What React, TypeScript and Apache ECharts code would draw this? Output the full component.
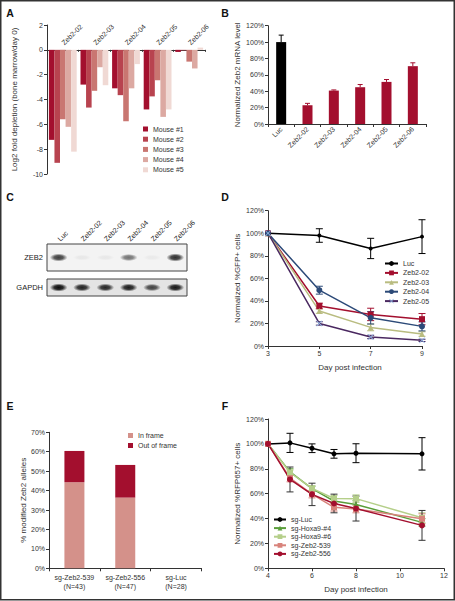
import React, { useEffect, useRef } from "react";
import * as echarts from "echarts";

const FONT = "'Liberation Sans', Arial, Helvetica, sans-serif";
const INK = "#333333";
const CRIMSON = "#a30f2e";

// ---------- Panel A : log2 fold depletion ----------
const aGuides = ["Zeb2-02", "Zeb2-03", "Zeb2-04", "Zeb2-05", "Zeb2-06"];
const aMice = ["Mouse #1", "Mouse #2", "Mouse #3", "Mouse #4", "Mouse #5"];
const aMouse1 = [-7.25, -2.8, -3.1, -4.8, -0.17];
const aMouse2 = [-9.1, -4.65, -3.65, -3.75, -0.05];
const aMouse3 = [-5.6, -3.3, -5.75, -2.45, -0.95];
const aMouse4 = [-6.2, -1.4, -3.1, -5.4, -1.5];
const aMouse5 = [-8.2, -2.85, -1.15, -4.8, 0.18];
const aColors = ["#a30f2e", "#b8434f", "#c97671", "#dca9a2", "#f0d9d4"];
const aMin = -10;
const aMax = 2;

// ---------- Panel B : Zeb2 mRNA ----------
const bCats = ["Luc", "Zeb2-02", "Zeb2-03", "Zeb2-04", "Zeb2-05", "Zeb2-06"];
const bMean = [100, 22.9, 40.8, 44.9, 51.4, 70.6];
const bErr = [8.5, 2.3, 0.8, 3.3, 2.9, 4.1];

// ---------- Panel C : western blot ----------
const cLanes = ["Luc", "Zeb2-02", "Zeb2-03", "Zeb2-04", "Zeb2-05", "Zeb2-06"];
const cZeb2 = [0.78, 0.05, 0.05, 0.55, 0.04, 0.85];
const cGapdh = [1.0, 0.9, 0.88, 0.93, 0.75, 0.95];

// ---------- Panel D : %GFP+ ----------
const dDays = [3, 5, 7, 9];
const dNames = ["Luc", "Zeb2-02", "Zeb2-03", "Zeb2-04", "Zeb2-05"];
const dLuc = [100, 98, 86.5, 97];
const dLucErr = [0, 6, 9, 15];
const dZ02 = [100, 35.5, 28, 23.8];
const dZ02Err = [0, 2.5, 5.5, 5];
const dZ03 = [100, 31, 16.5, 10.6];
const dZ03Err = [0, 2, 3, 2];
const dZ04 = [100, 49.5, 25, 17.4];
const dZ04Err = [0, 3.5, 5.5, 4];
const dZ05 = [100, 20, 8, 5];
const dZ05Err = [0, 1.5, 1.5, 1];

// ---------- Panel E : modified alleles ----------
const eCats = ["sg-Zeb2-539\n(N=43)", "sg-Zeb2-556\n(N=47)", "sg-Luc\n(N=28)"];
const eNames = ["In frame", "Out of frame"];
const eInFrame = [44.3, 36.4, 0];
const eOutFrame = [16.1, 16.8, 0];

// ---------- Panel F : %RFP657+ ----------
const fDays = [4, 5, 6, 7, 8, 11];
const fNames = ["sg-Luc", "sg-Hoxa9-#4", "sg-Hoxa9-#6", "sg-Zeb2-539", "sg-Zeb2-556"];
const fLuc = [100, 100.8, 96.5, 92, 92.5, 92];
const fLucErr = [0, 7.7, 3.5, 3.5, 7.6, 13];
const fHoxa4 = [100, 77.5, 64, 54, 51.3, 36.9];
const fHoxa4Err = [0, 2.5, 2, 2, 3, 3];
const fHoxa6 = [100, 77, 64.2, 56.1, 56, 40.6];
const fHoxa6Err = [0, 2, 2, 2.5, 3, 4];
const fZeb539 = [100, 72.5, 59.6, 49, 47.6, 39.8];
const fZeb539Err = [0, 3, 3, 3, 3, 4];
const fZeb556 = [100, 71.4, 59.4, 52.1, 48, 34.5];
const fZeb556Err = [0, 10, 9, 7.5, 10, 12];

const labelStyle = { fontSize: 7, color: INK, fontFamily: FONT };
const nameStyle = { fontSize: 8, color: INK, fontFamily: FONT };

function axis(extra: any) {
  const base: any = {
    axisLine: { show: true, onZero: false, lineStyle: { color: INK, width: 1 } },
    axisTick: { show: true, length: 3, lineStyle: { color: INK, width: 1 } },
    axisLabel: { ...labelStyle, margin: 4 },
    splitLine: { show: false },
    nameTextStyle: nameStyle,
  };
  const out: any = { ...base, ...extra };
  for (const k of ["axisLine", "axisTick", "axisLabel", "nameTextStyle"]) {
    if (extra[k]) out[k] = { ...base[k], ...extra[k] };
  }
  return out;
}

function errorBars(color: string | ((i: number) => string), cap: number, upperOnly = false) {
  return (params: any, api: any) => {
    const x = api.value(0);
    const lo = api.value(1);
    const hi = api.value(2);
    const top = api.coord([x, hi]);
    const bot = api.coord([x, lo]);
    const stroke = typeof color === "function" ? color(params.dataIndex) : color;
    const st = { stroke, lineWidth: 1 };
    const ch: any[] = [
      { type: "line", shape: { x1: top[0], y1: top[1], x2: bot[0], y2: bot[1] }, style: st },
      { type: "line", shape: { x1: top[0] - cap, y1: top[1], x2: top[0] + cap, y2: top[1] }, style: st },
    ];
    if (!upperOnly) {
      ch.push({ type: "line", shape: { x1: bot[0] - cap, y1: bot[1], x2: bot[0] + cap, y2: bot[1] }, style: st });
    }
    return { type: "group", children: ch };
  };
}

function errData(xs: number[], vals: number[], errs: number[]) {
  return xs
    .map((x, i) => [x, vals[i] - errs[i], vals[i] + errs[i]])
    .filter((_, i) => errs[i] > 0);
}

function blotRender(bandH: number) {
  return (params: any, api: any) => {
    const lane = api.value(0);
    const lvl = api.value(2);
    const c = api.coord([lane, 0]);
    const s = api.size([1, 1]);
    const rx = s[0] * 0.38;
    const ry = bandH * (0.75 + 0.45 * lvl);
    return {
      type: "ellipse",
      shape: { cx: c[0], cy: c[1], rx, ry },
      style: {
        fill: new echarts.graphic.RadialGradient(0.5, 0.5, 0.5, [
          { offset: 0, color: `rgba(12,12,12,${lvl})` },
          { offset: 0.5, color: `rgba(12,12,12,${lvl * 0.85})` },
          { offset: 1, color: "rgba(12,12,12,0)" },
        ]),
      },
    };
  };
}

function lineSeries(name: string, xs: number[], vals: number[], idx: number, color: string, symbol: string, size: number, symColor?: string) {
  return {
    name,
    type: "line",
    xAxisIndex: idx,
    yAxisIndex: idx,
    data: xs.map((x, i) => [x, vals[i]]),
    symbol,
    symbolSize: size,
    lineStyle: { color, width: 1.5 },
    itemStyle: { color: symColor || color },
    z: 3,
  };
}

function errSeries(xs: number[], vals: number[], errs: number[], idx: number, color: string) {
  return {
    type: "custom",
    xAxisIndex: idx,
    yAxisIndex: idx,
    data: errData(xs, vals, errs),
    encode: { x: 0, y: [1, 2] },
    renderItem: errorBars(color, 3.5),
    z: 2,
  };
}

const XMARK = "path://M0,1L1,0L5,4L9,0L10,1L6,5L10,9L9,10L5,6L1,10L0,9L4,5Z";

function panelLabel(text: string, x: number, y: number) {
  return {
    type: "text",
    x,
    y,
    style: { text, fontSize: 10.5, fontWeight: "bold", fontFamily: FONT, fill: "#111", align: "center", verticalAlign: "middle" },
  };
}

export default function App() {
  const ref = useRef<HTMLDivElement>(null);
  useEffect(() => {
    if (!ref.current) return;
    const chart = echarts.init(ref.current, null, { renderer: "svg" });
    const aGrid = { left: 47, top: 25, width: 158, height: 149 };
    // put the category axis of panel A on the zero line
    const aZeroOffset = -(aGrid.height * aMax) / (aMax - aMin);
    const aSeries = [aMouse1, aMouse2, aMouse3, aMouse4, aMouse5].map((vals, i) => ({
      name: aMice[i],
      type: "bar",
      xAxisIndex: 0,
      yAxisIndex: 0,
      data: vals,
      barGap: "0%",
      barCategoryGap: "12%",
      itemStyle: { color: aColors[i] },
    }));
    const option: any = {
      animation: false,
      backgroundColor: "#ffffff",
      textStyle: { fontFamily: FONT },
      grid: [
        aGrid,
        { left: 268, top: 25.7, width: 158, height: 98.3 },
        { left: 47, top: 244, width: 140, height: 27, show: true, borderColor: "#444", borderWidth: 1, backgroundColor: "#f3f3f3" },
        { left: 47, top: 279, width: 140, height: 17, show: true, borderColor: "#444", borderWidth: 1, backgroundColor: "#e4e4e4" },
        { left: 268, top: 210.7, width: 154, height: 135.3 },
        { left: 49, top: 432.3, width: 152.5, height: 136 },
        { left: 268, top: 419, width: 176, height: 149.3 },
      ],
      xAxis: [
        axis({
          type: "category",
          gridIndex: 0,
          data: aGuides,
          position: "top",
          offset: aZeroOffset,
          axisTick: { length: 2, inside: true },
          axisLabel: { rotate: -45, margin: 6, interval: 0 },
        }),
        axis({ type: "category", gridIndex: 1, data: bCats, axisLabel: { rotate: 45, margin: 4, interval: 0 } }),
        axis({
          type: "category",
          gridIndex: 2,
          data: cLanes,
          position: "top",
          axisLine: { show: false },
          axisTick: { show: false },
          axisLabel: { rotate: -45, margin: 4, color: "#222", interval: 0 },
        }),
        axis({ type: "category", gridIndex: 3, data: cLanes, axisLine: { show: false }, axisTick: { show: false }, axisLabel: { show: false } }),
        axis({
          type: "value",
          gridIndex: 4,
          min: 3,
          max: 9,
          interval: 2,
          name: "Day post infection",
          nameLocation: "middle",
          nameGap: 17,
          nameTextStyle: { padding: [0, 0, 0, 10] },
        }),
        axis({ type: "category", gridIndex: 5, data: eCats, axisLabel: { lineHeight: 9, margin: 5, interval: 0 } }),
        axis({
          type: "value",
          gridIndex: 6,
          min: 4,
          max: 12,
          interval: 2,
          name: "Day post infection",
          nameLocation: "middle",
          nameGap: 17,
        }),
      ],
      yAxis: [
        axis({
          type: "value",
          gridIndex: 0,
          min: aMin,
          max: aMax,
          interval: 2,
          name: "Log2 fold depletion (bone marrow/day 0)",
          nameLocation: "middle",
          nameGap: 29,
        }),
        axis({
          type: "value",
          gridIndex: 1,
          min: 0,
          max: 120,
          interval: 20,
          axisLabel: { formatter: "{value}%" },
          name: "Normalized Zeb2 mRNA level",
          nameLocation: "middle",
          nameGap: 27,
        }),
        axis({
          type: "category",
          gridIndex: 2,
          data: ["ZEB2"],
          axisLine: { show: false },
          axisTick: { show: false },
          axisLabel: { fontSize: 7.5, color: "#222", margin: 4 },
        }),
        axis({
          type: "category",
          gridIndex: 3,
          data: ["GAPDH"],
          axisLine: { show: false },
          axisTick: { show: false },
          axisLabel: { fontSize: 7.5, color: "#222", margin: 4 },
        }),
        axis({
          type: "value",
          gridIndex: 4,
          min: 0,
          max: 120,
          interval: 20,
          axisLabel: { formatter: "{value}%" },
          name: "Normalized %GFP+ cells",
          nameLocation: "middle",
          nameGap: 27,
        }),
        axis({
          type: "value",
          gridIndex: 5,
          min: 0,
          max: 70,
          interval: 10,
          axisLabel: { formatter: "{value}%" },
          name: "% modified Zeb2 alleles",
          nameLocation: "middle",
          nameGap: 21,
        }),
        axis({
          type: "value",
          gridIndex: 6,
          min: 0,
          max: 120,
          interval: 20,
          axisLabel: { formatter: "{value}%" },
          name: "Normalized %RFP657+ cells",
          nameLocation: "middle",
          nameGap: 27,
        }),
      ],
      legend: [
        {
          data: aMice,
          orient: "vertical",
          left: 143,
          top: 125.5,
          itemWidth: 5,
          itemHeight: 5,
          itemGap: 3.2,
          padding: 0,
          icon: "rect",
          selectedMode: false,
          textStyle: labelStyle,
        },
        {
          data: dNames,
          orient: "vertical",
          left: 384,
          top: 260,
          itemWidth: 13,
          itemHeight: 6,
          itemGap: 2.4,
          padding: 0,
          selectedMode: false,
          textStyle: labelStyle,
        },
        {
          data: eNames,
          orient: "vertical",
          left: 128,
          top: 432,
          itemWidth: 5,
          itemHeight: 5,
          itemGap: 3,
          padding: 0,
          icon: "rect",
          selectedMode: false,
          textStyle: labelStyle,
        },
        {
          data: fNames,
          orient: "vertical",
          left: 273,
          top: 516,
          itemWidth: 12,
          itemHeight: 6,
          itemGap: 1.6,
          padding: 0,
          selectedMode: false,
          textStyle: labelStyle,
        },
      ],
      series: [
        ...aSeries,
        {
          name: "Zeb2 mRNA",
          type: "bar",
          xAxisIndex: 1,
          yAxisIndex: 1,
          barWidth: 10,
          data: bMean.map((v, i) => ({ value: v, itemStyle: { color: i === 0 ? "#000000" : CRIMSON } })),
          z: 3,
        },
        {
          type: "custom",
          xAxisIndex: 1,
          yAxisIndex: 1,
          data: bMean.map((v, i) => [i, v, v + bErr[i]]),
          encode: { x: 0, y: [1, 2] },
          renderItem: errorBars((i: number) => (i === 0 ? "#000000" : CRIMSON), 2.5, true),
          z: 2,
        },
        {
          type: "custom",
          xAxisIndex: 2,
          yAxisIndex: 2,
          data: cZeb2.map((v, i) => [i, 0, v]),
          encode: { x: 0, y: 1 },
          renderItem: blotRender(3.6),
        },
        {
          type: "custom",
          xAxisIndex: 3,
          yAxisIndex: 3,
          data: cGapdh.map((v, i) => [i, 0, v]),
          encode: { x: 0, y: 1 },
          renderItem: blotRender(3.4),
        },
        errSeries(dDays, dLuc, dLucErr, 4, "#000000"),
        errSeries(dDays, dZ02, dZ02Err, 4, CRIMSON),
        errSeries(dDays, dZ03, dZ03Err, 4, "#b9bc80"),
        errSeries(dDays, dZ04, dZ04Err, 4, "#2c4a78"),
        errSeries(dDays, dZ05, dZ05Err, 4, "#4a2860"),
        lineSeries("Luc", dDays, dLuc, 4, "#000000", "circle", 4),
        lineSeries("Zeb2-02", dDays, dZ02, 4, CRIMSON, "rect", 6),
        lineSeries("Zeb2-03", dDays, dZ03, 4, "#b9bc80", "triangle", 6),
        lineSeries("Zeb2-04", dDays, dZ04, 4, "#2c4a78", "circle", 6),
        lineSeries("Zeb2-05", dDays, dZ05, 4, "#4a2860", XMARK, 6, "#8fb6e3"),
        {
          name: "In frame",
          type: "bar",
          stack: "alleles",
          xAxisIndex: 5,
          yAxisIndex: 5,
          barWidth: 20,
          data: eInFrame,
          itemStyle: { color: "#d4918a" },
        },
        {
          name: "Out of frame",
          type: "bar",
          stack: "alleles",
          xAxisIndex: 5,
          yAxisIndex: 5,
          barWidth: 20,
          data: eOutFrame,
          itemStyle: { color: CRIMSON },
        },
        errSeries(fDays, fLuc, fLucErr, 6, "#000000"),
        errSeries(fDays, fHoxa4, fHoxa4Err, 6, "#5a9e3a"),
        errSeries(fDays, fHoxa6, fHoxa6Err, 6, "#b5cf8a"),
        errSeries(fDays, fZeb539, fZeb539Err, 6, "#d8837b"),
        errSeries(fDays, fZeb556, fZeb556Err, 6, "#333333"),
        lineSeries("sg-Luc", fDays, fLuc, 6, "#000000", "circle", 5),
        lineSeries("sg-Hoxa9-#4", fDays, fHoxa4, 6, "#5a9e3a", "triangle", 6),
        lineSeries("sg-Hoxa9-#6", fDays, fHoxa6, 6, "#b5cf8a", "rect", 6),
        lineSeries("sg-Zeb2-539", fDays, fZeb539, 6, "#d8837b", "rect", 6),
        lineSeries("sg-Zeb2-556", fDays, fZeb556, 6, CRIMSON, "circle", 6),
      ],
      graphic: [
        {
          type: "rect",
          shape: { x: 0.75, y: 0.75, width: 453.5, height: 599 },
          style: { fill: "none", stroke: "#333", lineWidth: 1.5 },
          silent: true,
        },
        panelLabel("A", 10, 13),
        panelLabel("B", 225, 13),
        panelLabel("C", 10, 197),
        panelLabel("D", 225, 197),
        panelLabel("E", 10, 406),
        panelLabel("F", 225, 406),
      ],
    };
    chart.setOption(option);
    return () => chart.dispose();
  }, []);
  return <div ref={ref} style={{ position: "absolute", left: 0, top: 0, width: 455, height: 601 }} />;
}
